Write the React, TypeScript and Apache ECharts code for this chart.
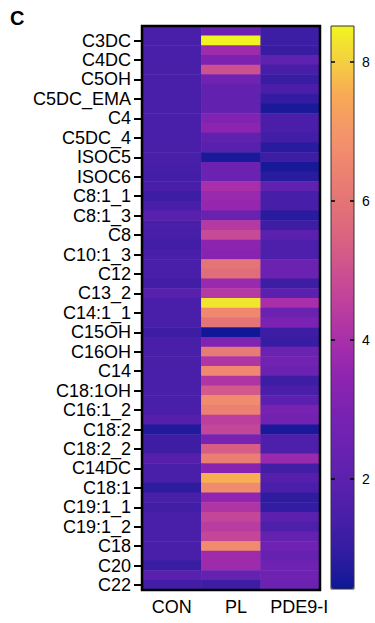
import React, { useEffect, useRef } from 'react';
import * as echarts from 'echarts';

const FONT = '"Liberation Sans", Arial, Helvetica, sans-serif';

const groups = ['CON', 'PL', 'PDE9-I'];

// 58 rows; only every other row carries a visible label (as in the original)
const rowLabels = [
  '', 'C3DC', '', 'C4DC', '', 'C5OH', '', 'C5DC_EMA', '', 'C4',
  '', 'C5DC_4', '', 'ISOC5', '', 'ISOC6', '', 'C8:1_1', '', 'C8:1_3',
  '', 'C8', '', 'C10:1_3', '', 'C12', '', 'C13_2', '', 'C14:1_1',
  '', 'C15OH', '', 'C16OH', '', 'C14', '', 'C18:1OH', '', 'C16:1_2',
  '', 'C18:2', '', 'C18:2_2', '', 'C14DC', '', 'C18:1', '', 'C19:1_1',
  '', 'C19:1_2', '', 'C18', '', 'C20', '', 'C22',
];

const conValues = [
  1.45, 1.45, 1.45, 1.45, 1.45, 1.45, 1.45, 1.45, 1.45, 1.45,
  1.45, 1.45, 1.45, 1.45, 1.4, 1.35, 1.45, 1.2, 1.45, 1.9,
  1.45, 1.4, 1.3, 1.45, 1.45, 1.45, 1.3, 1.9, 1.45, 1.45,
  1.45, 1.2, 1.45, 1.45, 1.45, 1.45, 1.45, 1.45, 1.45, 1.5,
  1.8, 0.7, 1.2, 1.2, 1.8, 1.45, 1.45, 0.9, 1.45, 1.3,
  1.45, 1.45, 1.45, 1.45, 1.45, 1.1, 1.9, 1.3,
];

const plValues = [
  2.5, 8.5, 3.8, 3.0, 5.0, 2.7, 2.2, 2.2, 2.2, 3.1,
  3.4, 2.1, 1.9, 0.6, 2.5, 2.5, 4.0, 3.7, 3.6, 2.4,
  4.3, 4.8, 3.4, 3.3, 6.0, 5.8, 3.7, 4.3, 8.3, 6.6,
  6.0, 0.45, 3.1, 6.2, 4.2, 6.6, 4.2, 5.2, 6.7, 6.4,
  4.5, 4.7, 2.9, 5.3, 6.3, 3.3, 7.6, 6.7, 3.5, 4.2,
  4.7, 4.4, 4.7, 6.7, 3.8, 3.8, 2.3, 1.2,
];

const pde9Values = [
  1.2, 1.2, 1.1, 2.1, 1.4, 1.1, 1.5, 1.0, 0.6, 1.5,
  1.5, 1.3, 0.8, 1.2, 0.55, 0.8, 2.1, 1.4, 1.4, 0.8,
  1.2, 2.0, 1.6, 1.6, 2.5, 2.5, 1.2, 2.0, 4.0, 2.5,
  3.0, 1.2, 1.1, 2.5, 2.7, 2.5, 1.2, 1.5, 2.0, 2.9,
  2.7, 0.6, 1.6, 1.6, 3.7, 1.3, 1.8, 1.5, 0.9, 1.0,
  2.0, 1.6, 2.3, 2.6, 2.3, 2.6, 2.6, 2.5,
];

const colorTicks = [2, 4, 6, 8];
const scaleMin = 0.42;
const scaleMax = 8.52;

const palette = [
  '#0e1896', '#301ca0', '#481ea8', '#5a20ae', '#6a22b0', '#7a22b2',
  '#8e24b0', '#a62eaa', '#bc3e9e', '#cc5090', '#da6480', '#e47476',
  '#ee8470', '#f4966a', '#f8a856', '#f4d040', '#f0f520',
];

// small per-label horizontal nudges for the group labels (px of left padding)
const groupLabelPad = [0, 10, 18];

export default function App() {
  const ref = useRef<HTMLDivElement>(null);

  useEffect(() => {
    document.body.style.margin = '0';
    if (!ref.current) return;
    const chart = echarts.init(ref.current, undefined, { renderer: 'svg' });

    const columns = [conValues, plValues, pde9Values];
    const data: [number, number, number][] = [];
    rowLabels.forEach((_, r) => {
      columns.forEach((col, c) => data.push([c, r, col[r]]));
    });

    const shown = (i: number) => i % 2 === 1;

    chart.setOption({
      animation: false,
      textStyle: { fontFamily: FONT },
      grid: [
        {
          left: 142, top: 26, width: 178, height: 564,
          show: true, z: 10, borderColor: '#000', borderWidth: 2.5,
          backgroundColor: 'transparent',
        },
        {
          left: 331, top: 26, width: 23, height: 563,
          show: true, z: 10, borderColor: '#333', borderWidth: 1,
          backgroundColor: 'transparent',
        },
      ],
      xAxis: [
        {
          type: 'category', gridIndex: 0,
          data: groups.map((g, i) => ({ value: g, textStyle: { padding: [0, 0, 0, groupLabelPad[i]] } })),
          axisLine: { show: false }, axisTick: { show: false },
          axisLabel: { interval: 0, color: '#000', fontSize: 18, margin: 8, fontFamily: FONT },
        },
        { type: 'value', gridIndex: 1, show: false, min: 0, max: 1 },
      ],
      yAxis: [
        {
          type: 'category', gridIndex: 0, data: rowLabels, inverse: true,
          axisLine: { show: false },
          axisTick: {
            show: true, alignWithLabel: true, interval: shown, length: 8,
            lineStyle: { color: '#000', width: 2 },
          },
          axisLabel: { interval: shown, color: '#000', fontSize: 18, margin: 11, fontFamily: FONT },
          splitLine: { show: false },
        },
        {
          type: 'value', gridIndex: 1, position: 'right', min: scaleMin, max: scaleMax, z: 20,
          axisLine: { show: false, onZero: false }, splitLine: { show: false },
          axisTick: {
            show: true, inside: true, length: 4, customValues: colorTicks,
            lineStyle: { color: '#000', width: 1.5 },
          },
          axisLabel: { customValues: colorTicks, color: '#000', fontSize: 14, margin: 8, fontFamily: FONT },
        },
        {
          type: 'value', gridIndex: 1, position: 'left', min: scaleMin, max: scaleMax, z: 20,
          axisLine: { show: false, onZero: false }, splitLine: { show: false },
          axisTick: {
            show: true, inside: true, length: 4, customValues: colorTicks,
            lineStyle: { color: '#000', width: 1.5 },
          },
          axisLabel: { show: false },
        },
      ],
      visualMap: {
        type: 'continuous', min: scaleMin, max: scaleMax,
        inRange: { color: palette }, calculable: false, orient: 'vertical',
        left: 331, top: 26, itemWidth: 23, itemHeight: 563, padding: 0,
        seriesIndex: 0, hoverLink: false, z: 4,
      },
      series: [
        {
          type: 'heatmap', xAxisIndex: 0, yAxisIndex: 0, data,
          itemStyle: { borderWidth: 0 },
          emphasis: { disabled: true },
        },
      ],
      graphic: [
        {
          type: 'text', left: 10, top: 8,
          style: { text: 'C', font: `bold 20px ${FONT}`, fill: '#000' },
        },
      ],
    });

    return () => chart.dispose();
  }, []);

  return <div ref={ref} style={{ width: 375, height: 623 }} />;
}
